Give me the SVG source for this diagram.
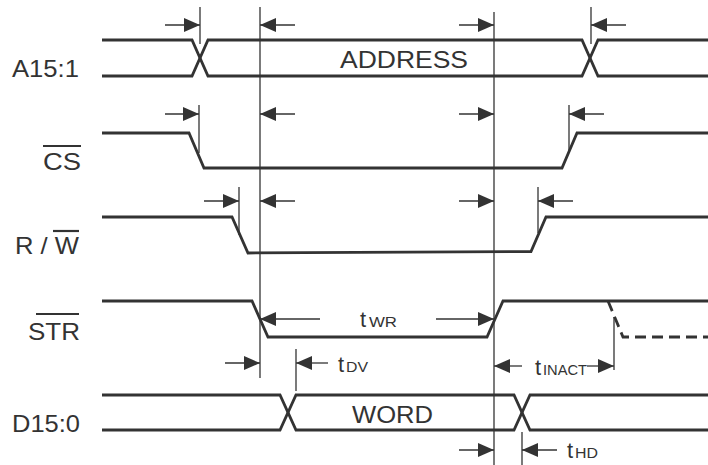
<svg xmlns="http://www.w3.org/2000/svg" width="708" height="465" viewBox="0 0 708 465">
<defs>
<style>
.sig{fill:none;stroke:#333;stroke-width:2.8;stroke-linejoin:miter}
.dash{fill:none;stroke:#333;stroke-width:2.8;stroke-dasharray:11,6}
.ref{stroke:#333;stroke-width:1.3}
.arr{stroke:#333;stroke-width:1.3;marker-end:url(#ah)}
.lbl{font-family:"Liberation Sans",Arial,sans-serif;font-size:24px;fill:#333}
.t{font-family:"Liberation Sans",Arial,sans-serif;font-size:22px;fill:#333}
.sub{font-family:"Liberation Sans",Arial,sans-serif;font-size:14px;fill:#333}
.ov{stroke:#333;stroke-width:2.2}
</style>
<marker id="ah" markerWidth="16" markerHeight="14" refX="16" refY="7" orient="auto" markerUnits="userSpaceOnUse">
<path d="M0,0 L16,7 L0,14 z" fill="#333"/>
</marker>
</defs>
<rect width="708" height="465" fill="#fff"/>

<g id="labels">
<text class="lbl" x="12" y="77" textLength="67" lengthAdjust="spacingAndGlyphs">A15:1</text>
<g id="cs-label"><text class="lbl" x="43" y="170" textLength="38" lengthAdjust="spacingAndGlyphs">CS</text><line class="ov" x1="43" y1="146" x2="81" y2="146"/></g>
<g id="rw-label"><text class="lbl" x="15" y="254" textLength="64" lengthAdjust="spacingAndGlyphs">R / W</text><line class="ov" x1="53" y1="231" x2="79" y2="231"/></g>
<g id="str-label"><text class="lbl" x="28" y="340" textLength="52" lengthAdjust="spacingAndGlyphs">STR</text><line class="ov" x1="36" y1="314" x2="79" y2="314"/></g>
<text class="lbl" x="12" y="432" textLength="68" lengthAdjust="spacingAndGlyphs">D15:0</text>
</g>

<g id="sig-a15">
<path class="sig" d="M102,40 H192 L208,76 H582 L598,40 H708"/>
<path class="sig" d="M102,76 H192 L208,40 H582 L598,76 H708"/>
<text class="lbl" x="340" y="68" textLength="128" lengthAdjust="spacingAndGlyphs">ADDRESS</text>
</g>
<g id="sig-cs"><path class="sig" d="M102,133 H189 L204,168 H562 L577,133 H708"/></g>
<g id="sig-rw"><path class="sig" d="M102,217 H232 L248,253 L531,251.5 L546,217 H708"/></g>
<g id="sig-str">
<path class="sig" d="M102,301 H252 L268,337 H487 L503,301 H708"/>
<path class="dash" d="M608,301 L623,337 H708"/>
</g>
<g id="sig-d15">
<path class="sig" d="M102,395 H280 L296,430 H514 L530,395 H708"/>
<path class="sig" d="M102,430 H280 L296,395 H514 L530,430 H708"/>
<text class="lbl" x="352" y="423" textLength="81" lengthAdjust="spacingAndGlyphs">WORD</text>
</g>

<g id="connectors">
<line class="ref" x1="200" y1="7" x2="200" y2="44"/>
<line class="ref" x1="260" y1="7" x2="260" y2="378"/>
<line class="ref" x1="494" y1="12" x2="494" y2="465"/>
<line class="ref" x1="591" y1="7" x2="591" y2="44"/>
<line class="ref" x1="199" y1="105" x2="199" y2="153"/>
<line class="ref" x1="569" y1="105" x2="569" y2="150"/>
<line class="ref" x1="239" y1="187" x2="239" y2="235"/>
<line class="ref" x1="538" y1="187" x2="538" y2="233"/>
<line class="ref" x1="296" y1="349" x2="296" y2="391"/>
<line class="ref" x1="614" y1="317" x2="614" y2="370"/>
<line class="ref" x1="522" y1="432" x2="522" y2="465"/>

<line class="arr" x1="165" y1="25" x2="200" y2="25"/>
<line class="arr" x1="295" y1="25" x2="260" y2="25"/>
<line class="arr" x1="459" y1="25" x2="494" y2="25"/>
<line class="arr" x1="626" y1="25" x2="591" y2="25"/>

<line class="arr" x1="165" y1="114" x2="199" y2="114"/>
<line class="arr" x1="295" y1="114" x2="260" y2="114"/>
<line class="arr" x1="459" y1="114" x2="494" y2="114"/>
<line class="arr" x1="604" y1="114" x2="569" y2="114"/>

<line class="arr" x1="204" y1="201" x2="239" y2="201"/>
<line class="arr" x1="295" y1="201" x2="260" y2="201"/>
<line class="arr" x1="459" y1="201" x2="494" y2="201"/>
<line class="arr" x1="573" y1="201" x2="538" y2="201"/>

<line class="arr" x1="320" y1="319" x2="260" y2="319"/>
<line class="arr" x1="436" y1="319" x2="494" y2="319"/>

<line class="arr" x1="225" y1="363" x2="260" y2="363"/>
<line class="arr" x1="328" y1="363" x2="296" y2="363"/>

<line class="arr" x1="522" y1="366" x2="494" y2="366"/>
<line class="arr" x1="587" y1="366" x2="614" y2="366"/>

<line class="arr" x1="459" y1="450" x2="494" y2="450"/>
<line class="arr" x1="557" y1="450" x2="522" y2="450"/>
</g>

<g id="timing-labels">
<text x="360" y="326.5"><tspan class="t">t</tspan><tspan class="sub" x="369" textLength="28" lengthAdjust="spacingAndGlyphs">WR</tspan></text>
<text x="338" y="371.5"><tspan class="t">t</tspan><tspan class="sub" x="346" textLength="22" lengthAdjust="spacingAndGlyphs">DV</tspan></text>
<text x="535" y="375"><tspan class="t">t</tspan><tspan class="sub" x="543" textLength="44" lengthAdjust="spacingAndGlyphs">INACT</tspan></text>
<text x="567" y="458"><tspan class="t">t</tspan><tspan class="sub" x="575" textLength="23" lengthAdjust="spacingAndGlyphs">HD</tspan></text>
</g>
</svg>
